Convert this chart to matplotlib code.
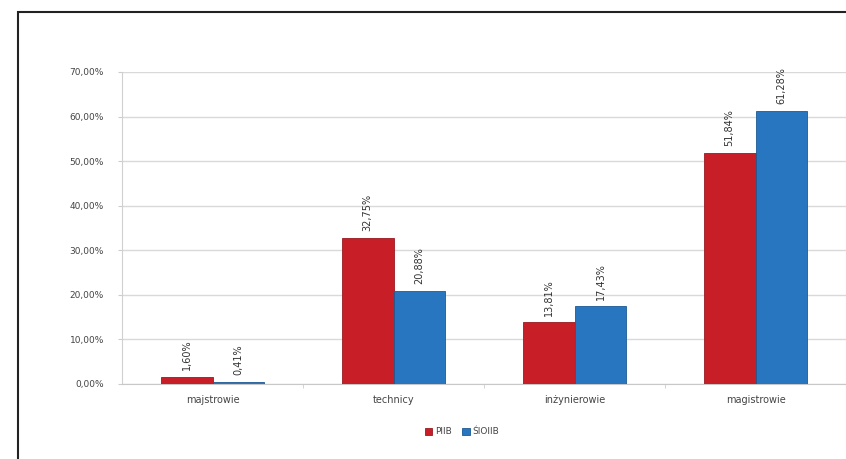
import numpy as np
import matplotlib.pyplot as plt
from matplotlib.patches import Rectangle
from matplotlib.ticker import FuncFormatter

# data
categories = ['majstrowie', 'technicy', 'inżynierowie', 'magistrowie']
piib = [1.60, 32.75, 13.81, 51.84]
sloiib = [0.41, 20.88, 17.43, 61.28]
series_names = ['PIIB', 'ŚlOIIB']
colors = ['#c81e28', '#2876c0']

def pl_pct(v, pos=None):
    return f'{v:.2f}%'.replace('.', ',')

fig = plt.figure(figsize=(8.46, 4.59), dpi=100)
fig.patch.set_facecolor('white')

# black frame around the chart (cut off on the right/bottom)
fig.patches.append(Rectangle((18 / 846, -0.1), 1.2, 1.1 - 12 / 459, transform=fig.transFigure,
                             fill=False, edgecolor='#222222', linewidth=1.5))

ax = fig.add_axes([122 / 846, 1 - 384 / 459, 1 - 122 / 846, (384 - 72) / 459])
x = np.arange(len(categories))
w = 0.287
b1 = ax.bar(x - w / 2, piib, w, color=colors[0], edgecolor='#9a1a20', linewidth=0.6, label=series_names[0], zorder=3)
b2 = ax.bar(x + w / 2, sloiib, w, color=colors[1], edgecolor='#1d5a94', linewidth=0.6, label=series_names[1], zorder=3)

for bars, vals in ((b1, piib), (b2, sloiib)):
    for r, v in zip(bars, vals):
        ax.text(r.get_x() + r.get_width() / 2, v + 1.5, pl_pct(v), rotation=90,
                ha='center', va='bottom', fontsize=7, color='#333333')

ax.set_xlim(-0.5, len(categories) - 0.5)
ax.set_ylim(0, 70)
ax.set_yticks(np.arange(0, 71, 10))
ax.yaxis.set_major_formatter(FuncFormatter(pl_pct))
ax.set_xticks(x)
ax.set_xticklabels(categories)
ax.set_xticks(np.arange(0.5, len(categories) - 0.5, 1), minor=True)
ax.tick_params(axis='x', which='major', length=0, pad=8, labelsize=7, colors='#444444')
ax.tick_params(axis='x', which='minor', length=3, color='#cccccc')
ax.tick_params(axis='y', length=3, color='#cccccc', labelsize=6.5, labelcolor='#444444', pad=10)
ax.grid(axis='y', color='#d9d9d9', linewidth=1, zorder=0)
for s in ['top', 'right']:
    ax.spines[s].set_visible(False)
ax.spines['left'].set_color('#d0d0d0')
ax.spines['bottom'].set_color('#c8c8c8')

fig.legend(handles=[b1, b2], labels=series_names, loc='center', bbox_to_anchor=(462 / 846, 1 - 432 / 459),
           ncol=2, frameon=False, fontsize=6.5, handlelength=0.8, handleheight=0.8, columnspacing=1.2,
           handletextpad=0.3, labelcolor='#444444')

plt.savefig('out.png', dpi=100)
